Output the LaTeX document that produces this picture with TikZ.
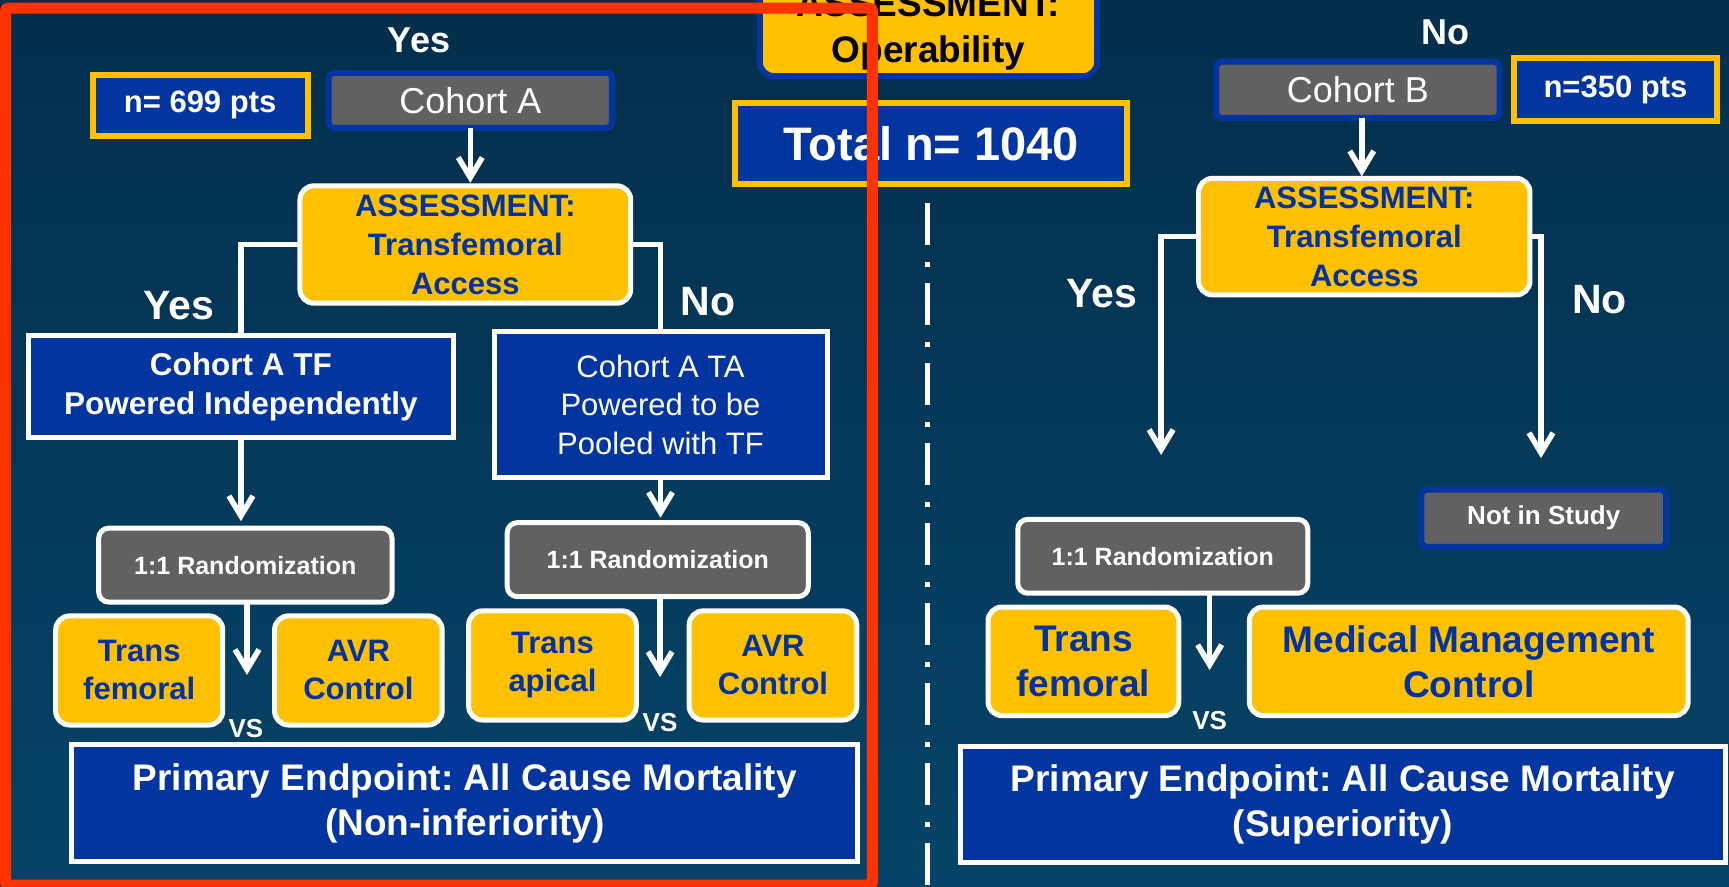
\documentclass[tikz,border=0pt]{standalone}
\usepackage{fontspec}
\setmainfont{Liberation Sans}
\usetikzlibrary{arrows.meta}
\definecolor{bgtop}{HTML}{032E4C}
\definecolor{bgbot}{HTML}{054468}
\definecolor{ygold}{HTML}{FFC000}
\definecolor{bblue}{HTML}{0335A0}
\definecolor{tblue}{HTML}{0033A0}
\definecolor{gbox}{HTML}{616161}
\definecolor{redf}{HTML}{FF3300}
\newcommand\myfs[2]{\fontsize{#1}{#2}\selectfont}
\frenchspacing
\begin{document}
\begin{tikzpicture}[x=1.1027pt,y=-1.1027pt,
  bx/.style n args={4}{minimum width={((#3)-(#1))*1.1027pt}, minimum height={((#4)-(#2))*1.1027pt}, at={({((#1)+(#3))/2},{((#2)+(#4))/2})}},
  base/.style={inner sep=0pt, outer sep=0pt, align=center, anchor=center},
  yel/.style={base, fill=ygold, draw=white, line width=5pt, rounded corners=14pt, text=tblue, font=\myfs{31}{39}\bfseries},
  yelbig/.style={yel, font=\myfs{37}{45}\bfseries},
  yelsm/.style={yel, font=\myfs{31}{38}\bfseries},
  opbox/.style={base, fill=ygold, draw=bblue, line width=6pt, rounded corners=14pt},
  optext/.style={text=black, inner sep=0pt, font=\myfs{37}{42}\bfseries},
  blu/.style={base, fill=bblue, draw=white, line width=5pt, text=white, font=\myfs{31.5}{38.6}\bfseries},
  blureg/.style={blu, font=\myfs{31}{38.3}},
  bluprim/.style={blu, font=\myfs{37}{45}\bfseries},
  num/.style={base, fill=bblue, draw=ygold, line width=6pt, text=white, font=\myfs{31}{37}\bfseries},
  tot/.style={num, font=\myfs{47}{50}\bfseries},
  grw/.style={base, fill=gbox, draw=white, line width=5pt, rounded corners=10pt, text=white, font=\myfs{25}{30}\bfseries},
  grb/.style={base, fill=gbox, draw=bblue, line width=6pt, rounded corners=6pt, text=white, font=\myfs{36}{40}},
  grbsm/.style={grb, font=\myfs{26}{30}\bfseries},
  lbl/.style={text=white, anchor=base, inner sep=0pt, font=\myfs{41}{45}\bfseries},
  lbltop/.style={lbl, font=\myfs{36}{40}\bfseries},
  vs/.style={lbl, font=\myfs{26}{30}\bfseries},
  conn/.style={draw=white, line width=5.5pt},
  arr/.style={conn, -{Straight Barb[length=20pt,width=24pt]}},
]
\useasboundingbox (0,0) rectangle (1568,804);
\clip (0,0) rectangle (1568,804);
\shade[top color=bgtop, bottom color=bgbot] (0,0) rectangle (1568,804);

% divider
\draw[white, line width=5pt, dash pattern=on 5pt off 16pt on 42pt off 17pt] (840.7,165) -- (840.7,810);

% top
\node[opbox, bx={689}{-20}{995}{69}] (op) {};
\node[optext, anchor=base] (opa) at (842,15.4) {ASSESSMENT:};
\node[optext, anchor=base] (opb) at (842,57) {Operability};
\node[tot, bx={667}{93}{1022}{167}] (tot) {Total n= 1040};

\node[lbltop] (yesT) at (380,47.2) {Yes};
\node[lbltop] (noT) at (1311,40.8) {No};

% ---------- Cohort A ----------
\node[num, bx={84}{68}{279}{123}] (nA) {n= 699 pts};
\node[grb, bx={298}{66}{555}{116}] (cA) {Cohort A};
\node[yel, bx={272}{168.5}{572}{275}] (asA) {ASSESSMENT:\\Transfemoral\\Access};
\node[blu, bx={26}{304.5}{411}{397}] (tfA) {Cohort A TF\\Powered Independently};
\node[blureg, bx={448}{301}{750}{433}] (taA) {Cohort A TA\\Powered to be\\Pooled with TF};
\node[lbl] (yesA) at (162.5,290.2) {Yes};
\node[lbl] (noA) at (642,285.7) {No};

\node[grw, bx={89.5}{479}{355.5}{546}] (rA) {1:1 Randomization};
\node[grw, bx={460}{474}{733}{541}] (rA2) {1:1 Randomization};

\node[yelsm, bx={50.5}{558.5}{202}{657.5}] (tfemA) {Trans\\femoral};
\node[yelsm, bx={249}{558.5}{401}{657.5}] (avrA) {AVR\\Control};
\node[yelsm, bx={425}{554}{577}{653}] (tapA) {Trans\\apical};
\node[yelsm, bx={625}{554}{777}{653}] (avrA2) {AVR\\Control};
\node[vs] (vsA) at (223,668.5) {VS};
\node[vs] (vsA2) at (598.6,663.8) {VS};

\node[bluprim, bx={65}{675.6}{778}{781}] (pA) {Primary Endpoint: All Cause Mortality\\(Non-inferiority)};

\draw[arr, shorten >=3pt] (cA.south) -- (cA.south |- asA.north);
\draw[conn] (asA.west) -| (tfA.north);
\draw[conn] (asA.east) -| (taA.north);
\draw[arr, shorten >=7pt] (tfA.south) -- (tfA.south |- rA.north);
\draw[arr, shorten >=5pt] (taA.south) -- (taA.south |- rA2.north);
\coordinate (tipA) at (224,612);
\coordinate (tipA2) at (598.6,614);
\draw[arr] (tipA |- rA.south) -- (tipA);
\draw[arr] (tipA2 |- rA2.south) -- (tipA2);

% ---------- Cohort B ----------
\node[grb, bx={1103}{56}{1360}{107}] (cB) {Cohort B};
\node[num, bx={1373}{53}{1557}{110}] (nB) {n=350 pts};
\node[yel, bx={1087}{161.7}{1387.5}{267.5}] (asB) {ASSESSMENT:\\Transfemoral\\Access};
\node[lbl] (yesB) at (999,279.3) {Yes};
\node[lbl] (noB) at (1450.6,283.9) {No};
\coordinate (yB) at (1053,412.6);
\coordinate (nBt) at (1397.5,415.5);
\draw[arr] (asB.west) -| (yB);
\draw[arr] (asB.east) -| (nBt);
\coordinate (cBx) at (1235,107);
\draw[arr, shorten >=2pt] (cBx |- cB.south) -- (cBx |- asB.north);

\node[grbsm, bx={1289}{444}{1511}{496}] (nis) {Not in Study};
\node[grw, bx={923}{471}{1186}{538}] (rB) {1:1 Randomization};
\node[yelbig, bx={896}{550.5}{1069}{649}] (tfB) {Trans\\femoral};
\node[yelbig, bx={1133}{550.5}{1531}{649}] (mmB) {Medical Management\\Control};
\node[vs] (vsB) at (1097,662) {VS};
\coordinate (tipB) at (1097,607.7);
\draw[arr] (tipB |- rB.south) -- (tipB);

\node[bluprim, bx={870.6}{677}{1565}{782}] (pB) {Primary Endpoint: All Cause Mortality\\(Superiority)};

% highlight frame
\draw[redf, line width=11pt, rounded corners=3pt] (5,7.3) rectangle (791.2,802.6);
\end{tikzpicture}
\end{document}
